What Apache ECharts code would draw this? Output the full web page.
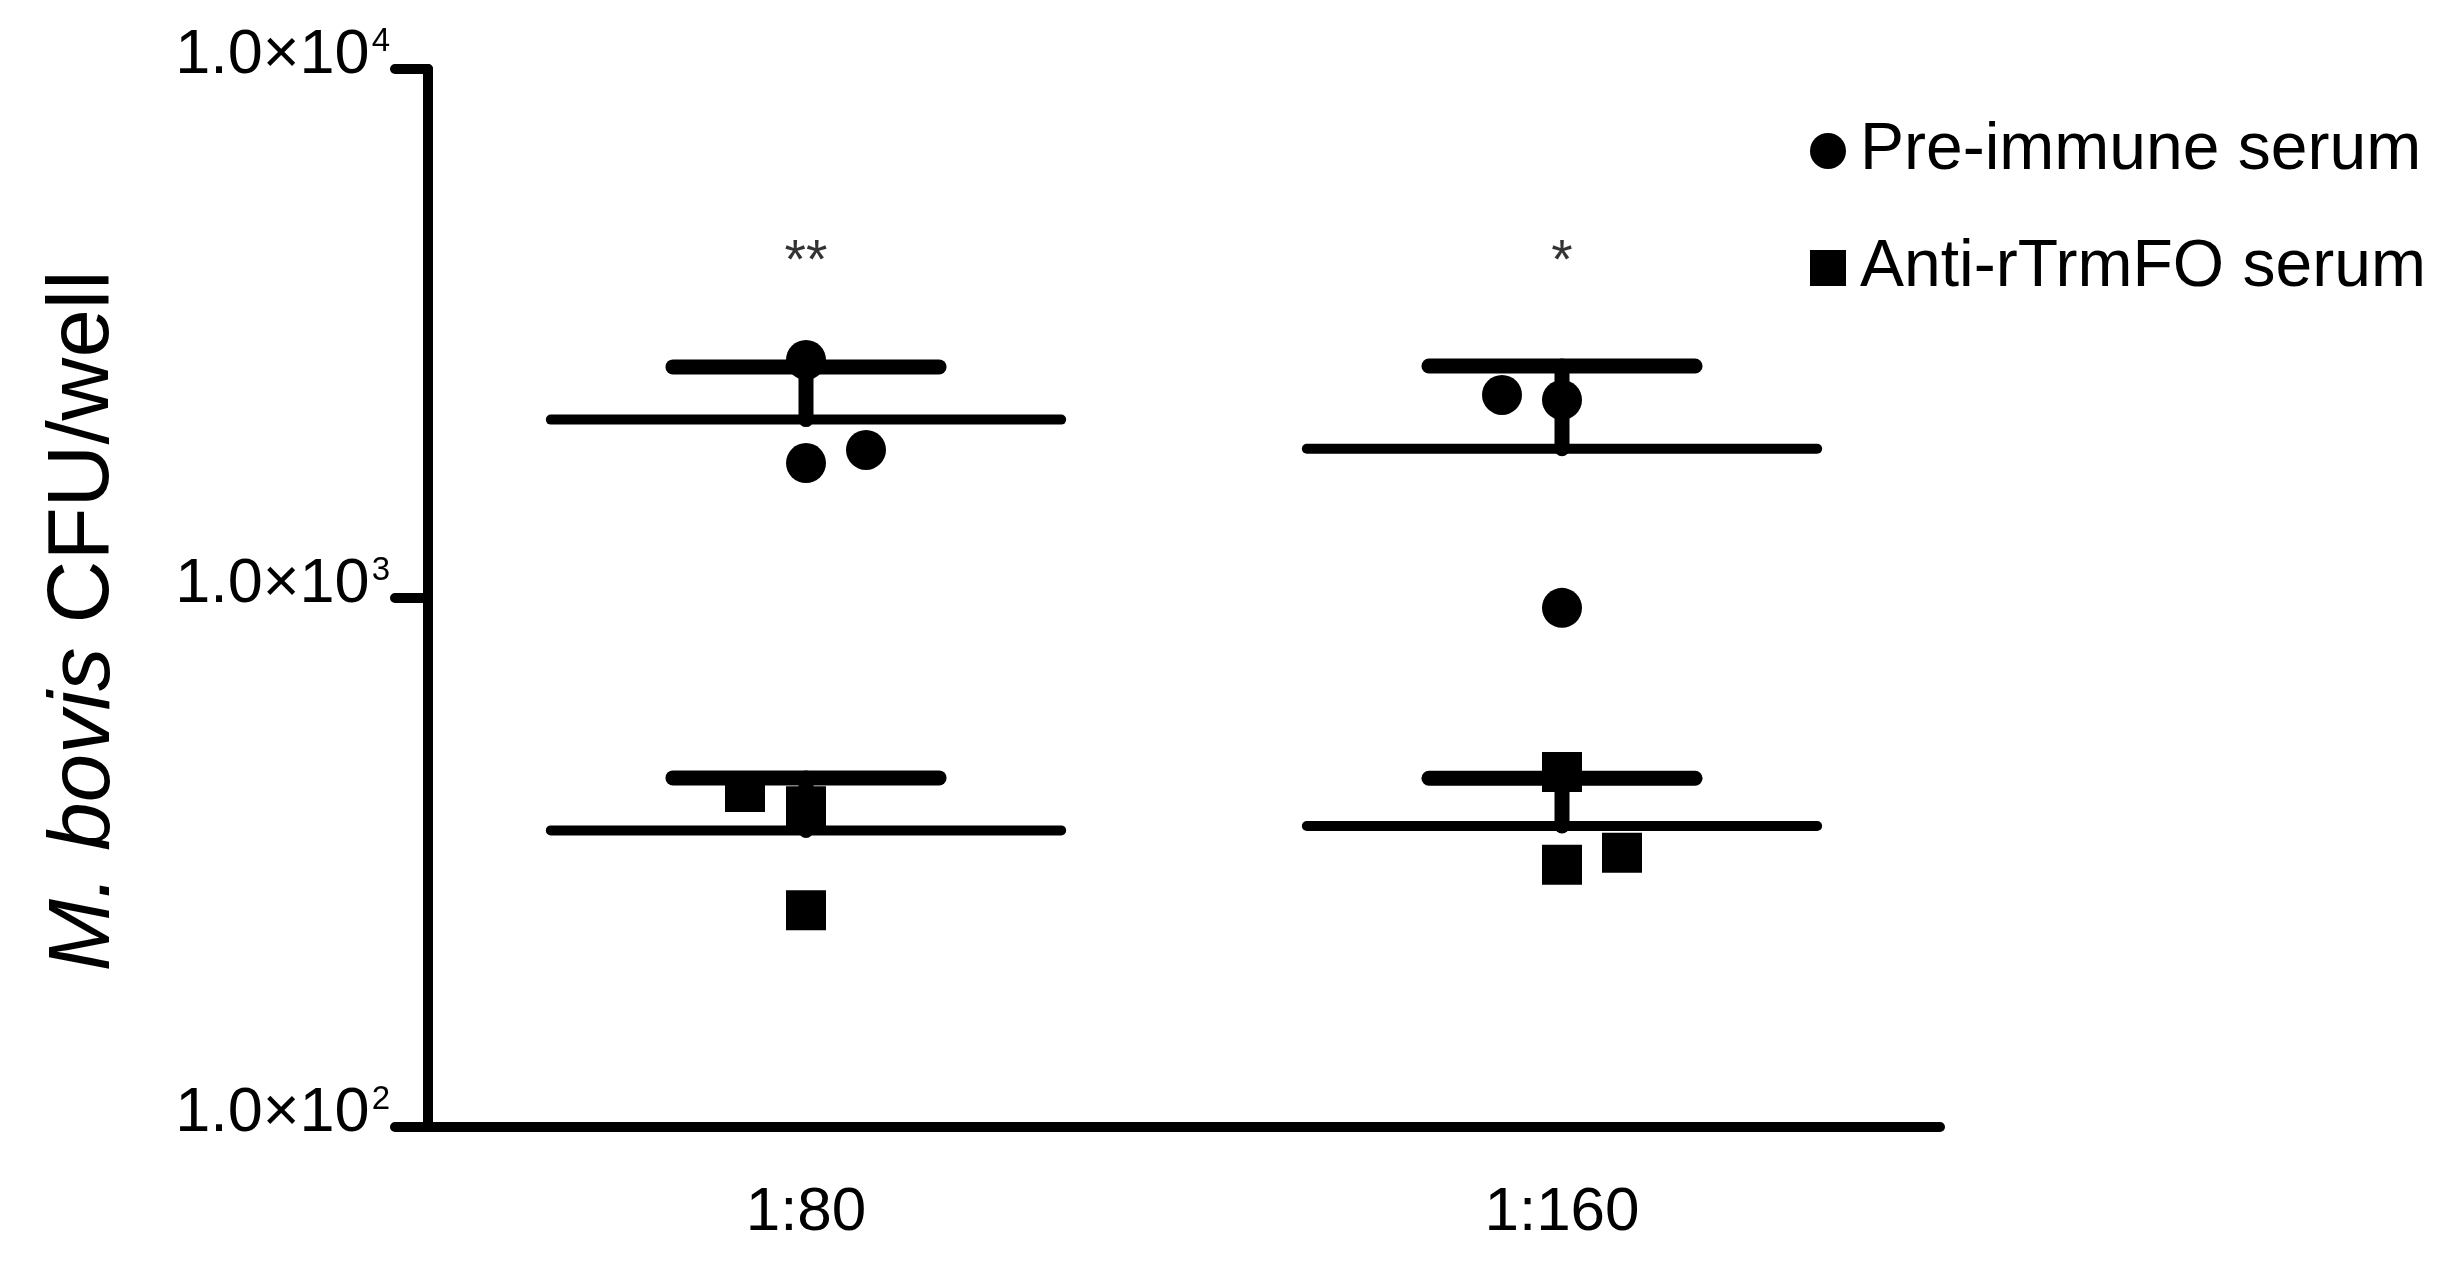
<!DOCTYPE html>
<html><head><meta charset="utf-8">
<script src="https://cdn.jsdelivr.net/npm/echarts@6/dist/echarts.min.js"></script>
<style>html,body{margin:0;padding:0;background:#fff}#chart{width:2458px;height:1263px}</style>
</head><body><div id="chart"></div>
<script>
// ---- data ----
const categories = ['1:80', '1:160'];
const seriesNames = ['Pre-immune serum', 'Anti-rTrmFO serum'];
const preImmune_1_80 = [2818, 1799, 1905];
const preImmune_1_160 = [2420, 2368, 958];
const antiRTrmFO_1_80 = [430, 404, 257];
const antiRTrmFO_1_160 = [469, 313, 330];
const yTickValues = [100, 1000, 10000];
const significance = ['**', '*'];
const significanceLevel = [4300, 4300];

// ---- layout only (horizontal jitter of replicates, px) ----
const jitterPre = [[0, 0, 60], [-60, 0, 0]];
const jitterAnti = [[-61, 0, 0], [0, 0, 60]];

const FONT = '"Liberation Sans", Arial, Helvetica, sans-serif';

function meanSd(a) {
  const m = a.reduce((s, v) => s + v, 0) / a.length;
  const sd = Math.sqrt(a.reduce((s, v) => s + (v - m) * (v - m), 0) / (a.length - 1));
  return [m, sd];
}
function points(groups, jit) {
  const out = [];
  groups.forEach((g, ci) => g.forEach((v, k) => out.push({ value: [ci, v], symbolOffset: [jit[ci][k], 0] })));
  return out;
}
function summary(groups) {
  return groups.map((g, ci) => { const [m, sd] = meanSd(g); return [ci, m, m + sd]; });
}
const preGroups = [preImmune_1_80, preImmune_1_160];
const antiGroups = [antiRTrmFO_1_80, antiRTrmFO_1_160];

function renderMeanSd(params, api) {
  const ci = api.value(0), m = api.value(1), hi = api.value(2);
  const pm = api.coord([ci, m]), ph = api.coord([ci, hi]);
  const band = api.size([1, 1], [ci, m])[0];
  const st = (w) => ({ stroke: '#000', lineWidth: w, lineCap: 'round' });
  return { type: 'group', children: [
    { type: 'line', shape: { x1: pm[0] - band * 0.3375, y1: pm[1], x2: pm[0] + band * 0.3375, y2: pm[1] }, style: st(10) },
    { type: 'line', shape: { x1: pm[0], y1: pm[1], x2: ph[0], y2: ph[1] }, style: st(15) },
    { type: 'line', shape: { x1: ph[0] - band * 0.176, y1: ph[1], x2: ph[0] + band * 0.176, y2: ph[1] }, style: st(15) }
  ]};
}

const chart = echarts.init(document.getElementById('chart'), null, { renderer: 'canvas' });
chart.setOption({
  backgroundColor: '#fff',
  animation: false,
  textStyle: { fontFamily: FONT, color: '#000' },
  grid: { left: 428, right: 518, top: 69, bottom: 136, containLabel: false },
  legend: {
    orient: 'vertical', left: 1805, top: 110, itemWidth: 36, itemHeight: 36, itemGap: 45,
    selectedMode: false,
    data: [{ name: seriesNames[0], icon: 'circle', itemStyle: { color: '#000', opacity: 1 } },
           { name: seriesNames[1], icon: 'rect', itemStyle: { color: '#000', opacity: 1 } }],
    textStyle: { fontSize: 66, fontFamily: FONT, color: '#000', lineHeight: 72, padding: [0, 0, 0, 9] }
  },
  xAxis: {
    type: 'category', data: categories, boundaryGap: true,
    axisLine: { lineStyle: { color: '#000', width: 10, cap: 'round' } },
    axisTick: { alignWithLabel: true, length: 28, lineStyle: { color: '#000', width: 10, cap: 'round' } },
    axisLabel: { fontSize: 62, fontFamily: FONT, color: '#000', margin: 55 },
    splitLine: { show: false }
  },
  yAxis: {
    type: 'log', logBase: 10, min: yTickValues[0], max: yTickValues[yTickValues.length - 1],
    name: '{i|M. bovis} CFU/well', nameLocation: 'middle', nameRotate: 90, nameGap: 300,
    nameTextStyle: { fontSize: 87, fontFamily: FONT, color: '#000', padding: [0, 46, 0, 0],
      rich: { i: { fontSize: 87, fontStyle: 'italic', fontFamily: FONT, color: '#000' } } },
    axisLine: { show: true, lineStyle: { color: '#000', width: 10, cap: 'round' } },
    axisTick: { show: true, length: 33, lineStyle: { color: '#000', width: 10, cap: 'round' } },
    splitLine: { show: false },
    minorTick: { show: false },
    axisLabel: {
      margin: 38,
      formatter: (v) => '{b|1.0×10}{s|' + Math.round(Math.log10(v)) + '}',
      padding: [0, 0, 26, 0],
      rich: {
        b: { fontSize: 63, lineHeight: 62, fontFamily: FONT, color: '#000' },
        s: { fontSize: 33, lineHeight: 42, verticalAlign: 'top', fontFamily: FONT, color: '#000', padding: [0, 0, 0, 2] }
      }
    }
  },
  series: [
    { type: 'custom', name: 'preMean', data: summary(preGroups), encode: { x: 0, y: [1, 2] }, renderItem: renderMeanSd, z: 2, silent: true },
    { type: 'custom', name: 'antiMean', data: summary(antiGroups), encode: { x: 0, y: [1, 2] }, renderItem: renderMeanSd, z: 2, silent: true },
    { type: 'scatter', name: seriesNames[0], symbol: 'circle', symbolSize: 40, itemStyle: { color: '#000', opacity: 1 }, data: points(preGroups, jitterPre), z: 3 },
    { type: 'scatter', name: seriesNames[1], symbol: 'rect', symbolSize: 40, itemStyle: { color: '#000', opacity: 1 }, data: points(antiGroups, jitterAnti), z: 3 },
    { type: 'scatter', name: 'sig', symbolSize: 0, silent: true,
      data: significance.map((s, i) => ({ value: [i, significanceLevel[i]], label: { formatter: s } })),
      label: { show: true, position: 'inside', fontSize: 55, fontFamily: FONT, color: '#000' } }
  ]
});
</script></body></html>
